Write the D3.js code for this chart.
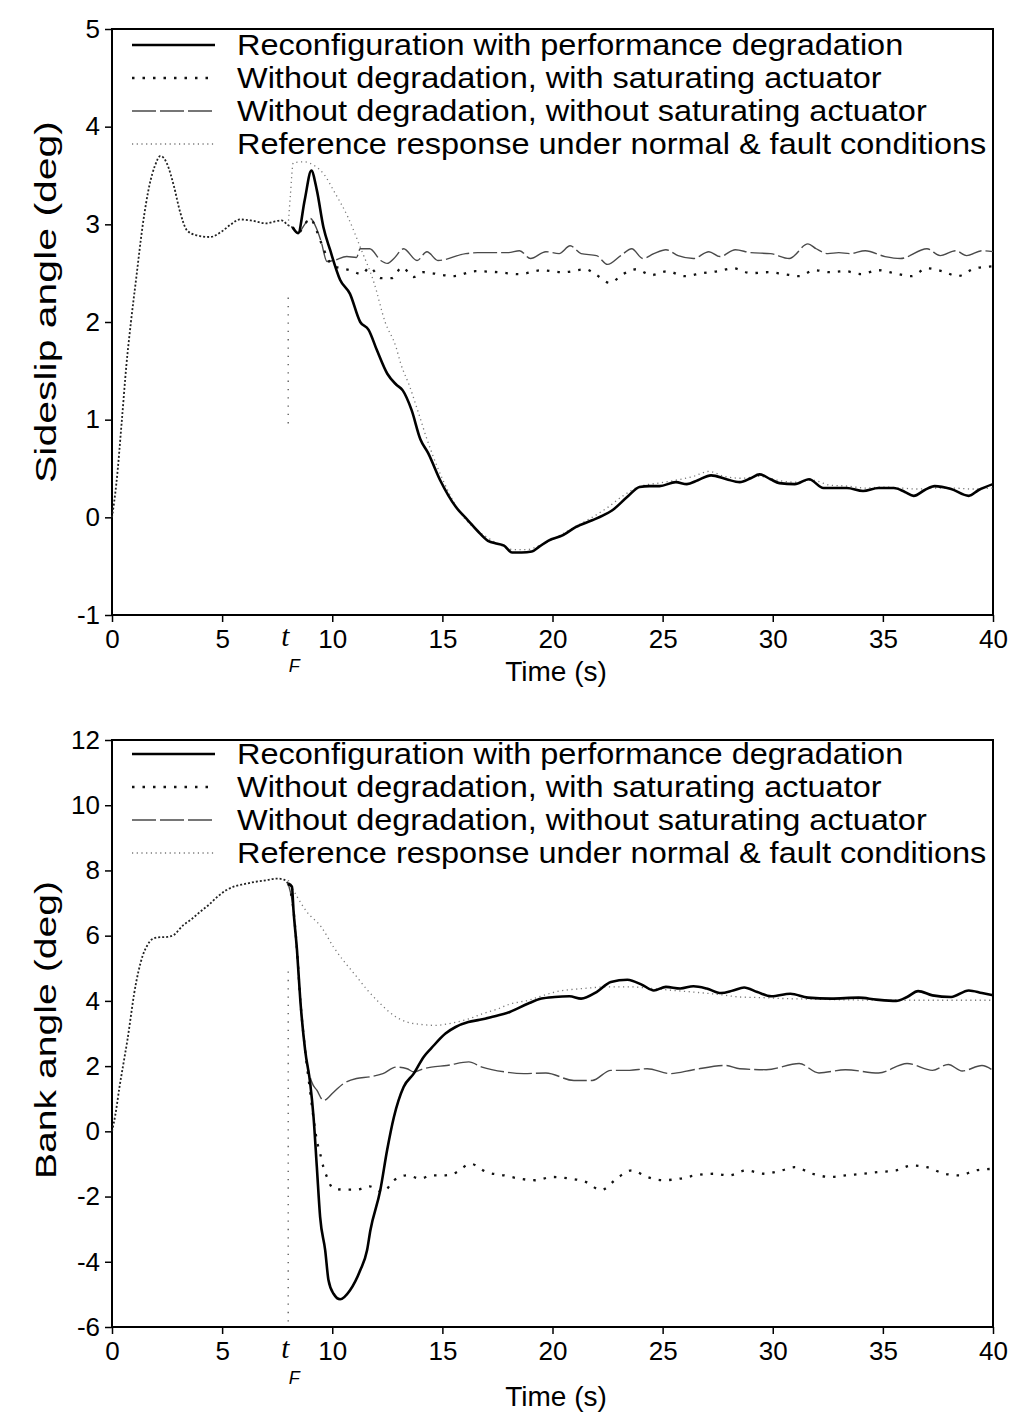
<!DOCTYPE html>
<html>
<head>
<meta charset="utf-8">
<script src="https://cdn.jsdelivr.net/npm/d3@7"></script>
<style>
body { margin: 0; background: #fff; }
text { font-family: "Liberation Sans", Arial, sans-serif; fill: #000; }
</style>
</head>
<body>
<div id="chart"></div>
<script>
// ---- data ----
const xTicks = [0, 5, 10, 15, 20, 25, 30, 35, 40];
const betaTicks = [-1, 0, 1, 2, 3, 4, 5];
const phiTicks = [-6, -4, -2, 0, 2, 4, 6, 8, 10, 12];
const tFault = 8;

const legendLabels = [
  "Reconfiguration with performance degradation",
  "Without degradation, with saturating actuator",
  "Without degradation, without saturating actuator",
  "Reference response under normal & fault conditions"
];

// sideslip angle (deg), all curves coincide before the fault
const betaPre = [[0,0],[0.2,0.35],[0.45,1.0],[0.65,1.55],[0.86,2.0],[1.1,2.45],[1.4,3.0],[1.7,3.4],[1.95,3.6],[2.2,3.7],[2.5,3.62],[2.8,3.4],[3.1,3.12],[3.4,2.94],[3.8,2.89],[4.45,2.87],[5.0,2.93],[5.4,3.0],[5.8,3.05],[6.3,3.04],[7.0,3.01],[7.4,3.03],[7.7,3.04],[8.0,2.99],[8.2,2.97]];
const betaReconf = [[8.2,2.97],[8.45,2.91],[8.75,3.25],[9.05,3.55],[9.3,3.35],[9.6,2.97],[9.9,2.74],[10.36,2.43],[10.8,2.29],[11.27,2.0],[11.65,1.92],[12.03,1.71],[12.5,1.47],[12.9,1.36],[13.2,1.3],[13.6,1.1],[14.0,0.8],[14.35,0.66],[14.9,0.38],[15.6,0.11],[16.16,-0.03],[16.6,-0.14],[17.07,-0.24],[17.5,-0.27],[17.8,-0.29],[18.16,-0.36],[18.6,-0.36],[19.06,-0.35],[19.4,-0.3],[19.8,-0.24],[20.5,-0.18],[21.05,-0.1],[21.8,-0.03],[22.3,0.02],[22.7,0.07],[23.4,0.21],[23.95,0.31],[24.4,0.32],[24.86,0.32],[25.6,0.36],[26.1,0.34],[26.6,0.38],[27.2,0.43],[27.9,0.39],[28.5,0.36],[29.0,0.4],[29.4,0.44],[29.9,0.39],[30.3,0.35],[31.0,0.34],[31.65,0.39],[32.3,0.3],[33.37,0.3],[34.1,0.27],[34.8,0.3],[35.5,0.3],[36.0,0.26],[36.4,0.22],[36.9,0.28],[37.35,0.32],[38.1,0.29],[38.9,0.22],[39.35,0.28],[40,0.34]];
const betaSat = [[8.2,2.97],[8.45,2.91],[8.75,3.0],[9.0,3.06],[9.3,2.93],[9.6,2.75],[10.0,2.58],[10.4,2.55],[10.8,2.53],[11.35,2.49],[11.7,2.56],[12.2,2.45],[12.7,2.45],[13.17,2.56],[13.7,2.46],[14.15,2.51],[14.5,2.5],[15.5,2.47],[16.5,2.52],[17.5,2.51],[18.5,2.49],[19.5,2.53],[20.5,2.51],[21.5,2.54],[22.0,2.48],[22.6,2.4],[23.2,2.49],[23.8,2.54],[24.5,2.48],[25.2,2.52],[26.0,2.47],[26.8,2.5],[27.5,2.52],[28.2,2.55],[29.0,2.5],[29.8,2.51],[30.5,2.49],[31.2,2.47],[31.9,2.53],[32.6,2.51],[33.3,2.52],[34.0,2.49],[34.8,2.53],[35.5,2.5],[36.3,2.47],[37.0,2.55],[37.7,2.52],[38.4,2.47],[39.2,2.55],[40,2.57]];
const betaNoSat = [[8.2,2.97],[8.45,2.91],[8.75,3.0],[9.0,3.06],[9.3,2.95],[9.5,2.82],[9.76,2.62],[10.06,2.63],[10.66,2.67],[11.1,2.66],[11.27,2.75],[11.7,2.75],[12.2,2.63],[12.5,2.6],[12.8,2.65],[13.24,2.75],[13.85,2.63],[14.3,2.72],[14.8,2.63],[16.06,2.7],[16.6,2.71],[18.0,2.71],[18.5,2.73],[19.0,2.65],[19.7,2.72],[20.3,2.7],[20.8,2.78],[21.3,2.7],[22.0,2.68],[22.5,2.59],[23.1,2.68],[23.6,2.75],[24.1,2.65],[24.6,2.7],[25.15,2.74],[25.7,2.68],[26.4,2.65],[27.1,2.72],[27.6,2.67],[28.3,2.74],[29.0,2.71],[29.9,2.7],[30.75,2.65],[31.6,2.8],[31.97,2.75],[32.5,2.7],[33.0,2.71],[33.5,2.7],[34.2,2.73],[35.1,2.67],[35.8,2.65],[37.0,2.75],[37.6,2.68],[38.3,2.73],[38.8,2.68],[39.5,2.73],[40,2.72]];
const betaRef = [[8.0,2.99],[8.1,3.3],[8.23,3.63],[8.7,3.64],[9.2,3.6],[9.6,3.52],[10.1,3.33],[10.7,3.08],[11.3,2.75],[11.9,2.4],[12.4,2.0],[12.9,1.74],[13.1,1.58],[13.5,1.35],[13.9,1.08],[14.3,0.8],[14.8,0.5],[15.3,0.25],[15.8,0.05],[16.3,-0.08],[17.0,-0.2],[17.6,-0.28],[18.2,-0.33],[18.8,-0.33],[19.5,-0.28],[20.2,-0.2],[21.0,-0.1],[21.8,0.0],[22.5,0.1],[23.2,0.22],[24.0,0.32],[24.8,0.35],[25.6,0.38],[26.4,0.42],[27.1,0.47],[27.8,0.42],[28.6,0.4],[29.4,0.42],[30.2,0.38],[31.0,0.36],[31.8,0.38],[32.6,0.33],[33.4,0.32],[34.2,0.3],[35.0,0.31],[35.8,0.3],[36.6,0.29],[37.4,0.3],[38.2,0.3],[39.0,0.29],[40,0.3]];
const betaMarker = [2.25, 0.95];

// bank angle (deg)
const phiPre = [[0,0],[0.15,0.5],[0.35,1.4],[0.55,2.2],[0.7,2.8],[0.85,3.5],[1.0,4.2],[1.2,4.9],[1.4,5.4],[1.6,5.7],[1.8,5.88],[2.1,5.95],[2.5,5.96],[2.8,6.02],[3.2,6.3],[3.6,6.5],[4.0,6.73],[4.4,6.95],[4.8,7.2],[5.2,7.4],[5.6,7.52],[6.0,7.58],[6.5,7.65],[7.0,7.7],[7.5,7.75],[7.8,7.72],[8.0,7.6]];
const phiReconf = [[8.0,7.6],[8.17,7.5],[8.24,6.78],[8.4,5.55],[8.55,4.02],[8.77,2.48],[9.0,1.47],[9.15,0.44],[9.3,-1.09],[9.45,-2.63],[9.68,-3.65],[9.83,-4.57],[10.06,-4.98],[10.36,-5.15],[10.8,-4.88],[11.27,-4.26],[11.58,-3.65],[11.73,-3.04],[12.18,-1.81],[12.49,-0.58],[12.8,0.44],[13.24,1.36],[13.7,1.77],[14.15,2.28],[14.5,2.55],[15.14,3.0],[15.6,3.2],[16.18,3.35],[16.7,3.42],[17.2,3.5],[18.06,3.66],[18.9,3.92],[19.5,4.07],[20.1,4.12],[20.77,4.14],[21.3,4.07],[22.0,4.27],[22.65,4.58],[23.4,4.65],[24.1,4.48],[24.6,4.32],[25.15,4.43],[25.8,4.38],[26.4,4.45],[27.0,4.38],[27.65,4.24],[28.2,4.32],[28.7,4.41],[29.3,4.27],[29.94,4.14],[30.8,4.22],[31.6,4.1],[32.65,4.07],[33.9,4.1],[34.7,4.04],[35.6,4.0],[36.1,4.12],[36.6,4.3],[37.25,4.17],[38.1,4.12],[38.9,4.32],[39.5,4.24],[40,4.17]];
const phiSat = [[8.0,7.6],[8.24,6.78],[8.4,5.55],[8.55,4.02],[8.77,2.48],[9.0,1.2],[9.15,0.4],[9.3,-0.28],[9.45,-0.68],[9.6,-1.1],[9.76,-1.4],[10.06,-1.76],[10.67,-1.79],[11.1,-1.79],[11.7,-1.69],[12.3,-1.86],[12.8,-1.5],[13.4,-1.35],[14.0,-1.45],[14.5,-1.35],[15.06,-1.35],[15.5,-1.3],[16.3,-1.0],[17.0,-1.25],[17.8,-1.35],[18.5,-1.45],[19.2,-1.5],[20.0,-1.4],[20.8,-1.45],[21.5,-1.55],[22.2,-1.8],[23.0,-1.4],[23.6,-1.2],[24.3,-1.4],[25.0,-1.5],[25.8,-1.45],[26.5,-1.35],[27.3,-1.3],[28.0,-1.35],[28.8,-1.2],[29.6,-1.3],[30.4,-1.2],[31.0,-1.1],[31.8,-1.3],[32.6,-1.4],[33.3,-1.35],[34.1,-1.3],[34.8,-1.25],[35.6,-1.2],[36.3,-1.05],[37.0,-1.1],[37.8,-1.3],[38.5,-1.35],[39.2,-1.2],[40,-1.15]];
const phiNoSat = [[8.0,7.6],[8.24,6.78],[8.4,5.55],[8.55,4.02],[8.77,2.48],[9.07,1.51],[9.3,1.26],[9.6,0.95],[10.06,1.2],[10.5,1.46],[11.1,1.62],[11.7,1.67],[12.3,1.77],[12.9,1.97],[13.4,1.92],[13.7,1.82],[14.15,1.92],[14.5,1.97],[15.2,2.02],[16.2,2.13],[16.8,1.97],[17.85,1.82],[18.7,1.77],[19.7,1.79],[20.97,1.56],[21.8,1.56],[22.65,1.87],[23.5,1.87],[24.3,1.92],[25.35,1.77],[26.4,1.89],[27.86,2.02],[28.5,1.92],[29.7,1.89],[31.2,2.08],[32.1,1.79],[33.3,1.89],[34.8,1.79],[36.1,2.08],[37.25,1.87],[37.97,2.05],[38.6,1.85],[39.5,2.02],[40,1.87]];
const phiRef = [[8.0,7.7],[8.4,7.2],[8.85,6.73],[9.5,6.27],[10.06,5.65],[10.5,5.24],[11.05,4.79],[11.6,4.33],[12.1,3.97],[12.8,3.55],[13.4,3.35],[14.0,3.28],[14.7,3.25],[15.5,3.33],[16.2,3.45],[16.8,3.6],[17.5,3.75],[18.06,3.9],[18.9,4.02],[19.5,4.15],[20.1,4.27],[21.4,4.38],[22.6,4.43],[23.5,4.43],[24.5,4.38],[25.5,4.32],[26.4,4.27],[27.5,4.2],[28.5,4.12],[29.5,4.1],[30.6,4.07],[32.0,4.05],[33.5,4.03],[35.0,4.02],[36.5,4.02],[38.0,4.02],[40,4.02]];
const phiMarker = [4.9, -5.9];

// ---- drawing ----
const W = 1020, H = 1415;
const svg = d3.select('#chart').append('svg')
  .attr('width', W)
  .attr('height', H);

svg.append('rect').attr('width', W).attr('height', H).attr('fill', 'white');

// line styles: reconfiguration, with saturation, without saturation, reference
const styles = [
  { stroke: '#000', width: 2.6, dash: null },
  { stroke: '#111', width: 2.3, dash: '2.5,8' },
  { stroke: '#4a4a4a', width: 1.4, dash: '24,4' },
  { stroke: '#777', width: 1.3, dash: '1.2,3.5' }
];
const preStyle = { stroke: '#222', width: 1.8, dash: '2,2' };

const x = d3.scaleLinear().domain([0, 40]).range([112, 993]);

function panel(opts) {
  const y = d3.scaleLinear().domain(opts.domain).range([opts.bottom, opts.top]);
  const g = svg.append('g');

  // frame
  g.append('rect')
    .attr('x', x(0)).attr('y', opts.top)
    .attr('width', x(40) - x(0)).attr('height', opts.bottom - opts.top)
    .attr('fill', 'none').attr('stroke', '#000').attr('stroke-width', 2);

  const yAxis = g.append('g')
    .attr('transform', 'translate(' + x(0) + ',0)')
    .call(d3.axisLeft(y).tickValues(opts.ticks).tickFormat(d => String(d))
      .tickSize(7).tickPadding(5));
  const xAxis = g.append('g')
    .attr('transform', 'translate(0,' + opts.bottom + ')')
    .call(d3.axisBottom(x).tickValues(xTicks).tickFormat(d => String(d))
      .tickSize(7).tickPadding(8));
  [yAxis, xAxis].forEach(a => {
    a.select('.domain').remove();
    a.selectAll('line').attr('stroke', '#000').attr('stroke-width', 1.5);
    a.selectAll('text').attr('font-size', 26)
      .style('font-family', '"Liberation Sans", Arial, sans-serif');
  });

  // fault time marker
  g.append('line')
    .attr('x1', x(tFault)).attr('x2', x(tFault))
    .attr('y1', y(opts.marker[0])).attr('y2', y(opts.marker[1]))
    .attr('stroke', '#555').attr('stroke-width', 1.3)
    .attr('stroke-dasharray', '1.3,7');

  const line = d3.line()
    .x(d => x(d[0])).y(d => y(d[1]))
    .curve(d3.curveMonotoneX);

  function draw(data, s) {
    g.append('path').datum(data)
      .attr('fill', 'none')
      .attr('stroke', s.stroke)
      .attr('stroke-width', s.width)
      .attr('stroke-dasharray', s.dash)
      .attr('stroke-linejoin', 'round')
      .attr('d', line);
  }
  draw(opts.pre, preStyle);
  draw(opts.series[3], styles[3]);
  draw(opts.series[2], styles[2]);
  draw(opts.series[1], styles[1]);
  draw(opts.series[0], styles[0]);

  // legend
  const leg = g.append('g');
  legendLabels.forEach((lab, i) => {
    const ly = opts.legendY + i * 33;
    const s = styles[i];
    leg.append('line')
      .attr('x1', 132).attr('x2', 215)
      .attr('y1', ly).attr('y2', ly)
      .attr('stroke', s.stroke).attr('stroke-width', s.width)
      .attr('stroke-dasharray', s.dash);
    const t = leg.append('text')
      .attr('x', 237).attr('y', ly)
      .attr('dy', '0.36em')
      .attr('font-size', 29)
      .text(lab);
    const len = t.node().getComputedTextLength();
    t.attr('textLength', len * 1.12).attr('lengthAdjust', 'spacingAndGlyphs');
  });

  // axis titles
  const yl = g.append('text')
    .attr('transform', 'translate(' + opts.yLabelX + ',' + opts.yLabelY + ') rotate(-90)')
    .attr('text-anchor', 'middle')
    .attr('dy', '0.35em')
    .attr('font-size', 30)
    .text(opts.yLabel);
  yl.attr('textLength', opts.yLabelLen).attr('lengthAdjust', 'spacingAndGlyphs');

  g.append('text')
    .attr('x', 556).attr('y', opts.timeY)
    .attr('text-anchor', 'middle')
    .attr('dy', '0.35em')
    .attr('font-size', 28)
    .text('Time (s)');

  // t_F label
  g.append('text')
    .attr('x', x(tFault) - 3).attr('y', opts.bottom + 31)
    .attr('text-anchor', 'middle')
    .attr('font-size', 29)
    .attr('font-style', 'italic')
    .style('font-family', '"Liberation Serif", "Times New Roman", serif')
    .text('t');
  g.append('text')
    .attr('x', x(tFault) + 6).attr('y', opts.bottom + 57)
    .attr('text-anchor', 'middle')
    .attr('font-size', 18)
    .attr('font-style', 'italic')
    .text('F');
}

panel({
  domain: [-1, 5], top: 29, bottom: 615, ticks: betaTicks,
  pre: betaPre, series: [betaReconf, betaSat, betaNoSat, betaRef],
  marker: betaMarker, legendY: 45,
  yLabel: 'Sideslip angle (deg)', yLabelX: 45, yLabelY: 302, yLabelLen: 362,
  timeY: 671
});

panel({
  domain: [-6, 12], top: 740, bottom: 1327, ticks: phiTicks,
  pre: phiPre, series: [phiReconf, phiSat, phiNoSat, phiRef],
  marker: phiMarker, legendY: 754,
  yLabel: 'Bank angle (deg)', yLabelX: 45, yLabelY: 1030, yLabelLen: 298,
  timeY: 1396
});
</script>
</body>
</html>
